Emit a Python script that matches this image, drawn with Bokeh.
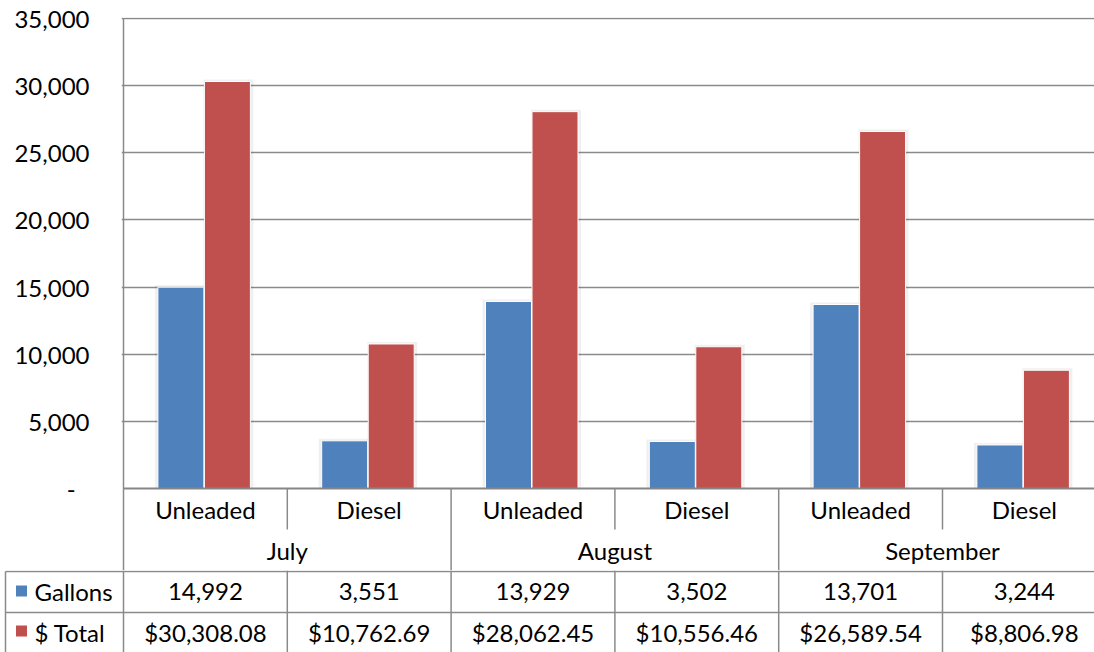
from bokeh.plotting import figure
from bokeh.models import Range1d, FixedTicker, NumeralTickFormatter, ColumnDataSource
from bokeh.layouts import column
from bokeh.transform import dodge
from bokeh.core.properties import value
from bokeh.embed import file_html
from bokeh.resources import INLINE

# ---------------- data ----------------
months = ["July", "August", "September"]
fuels = ["Unleaded", "Diesel"]
series = ["Gallons", "$ Total"]
gallons = [14992, 3551, 13929, 3502, 13701, 3244]
totals = [30308.08, 10762.69, 28062.45, 10556.46, 26589.54, 8806.98]
y_ticks = [0, 5000, 10000, 15000, 20000, 25000, 30000, 35000]

# ---------------- style / layout ----------------
BLUE = "#4F81BD"
RED = "#C0504D"
GRID = "#8a8a8a"
FONT = "Lato"
FSIZE = "24px"

CW = 163.8            # px per category column
PX = 470 / 35000      # px per value unit
PLOT_LEFT = 123       # page x of plot-area left edge
ZERO_Y = 488          # page y of value 0
FIG_W = 1094
A_TOP = 17
A_BOTTOM = 570
B_BOTTOM = 652
CAT_ROW_MID = 508.5
CAT_ROW_BOTTOM = 529
MONTH_ROW_MID = 549.5
ROW1_LINE = 571
ROW1_MID = 591
ROW2_LINE = 612
ROW2_MID = 632
LEG_LEFT = 5


def ydata(page_y):
    return (ZERO_Y - page_y) / PX


def xdata(page_x):
    return (page_x - PLOT_LEFT) / CW


n_cols = len(months) * len(fuels)
x_pos = [m * len(fuels) + f + 0.5 for m in range(len(months)) for f in range(len(fuels))]
cat_labels = [fu for _ in months for fu in fuels]
month_x = [m * len(fuels) + len(fuels) / 2 for m in range(len(months))]

src = ColumnDataSource(dict(
    x=x_pos,
    gallons=gallons,
    totals=totals,
    gal_sh=[g + 2 / PX for g in gallons],
    tot_sh=[t + 2 / PX for t in totals],
))

BAR_W = 46 / CW
OFF_L = -24.5 / CW
OFF_R = 22 / CW

# ---------------- top figure: chart + category header ----------------
pA = figure(width=FIG_W, height=A_BOTTOM,
            x_range=Range1d(xdata(121), xdata(FIG_W)),
            y_range=Range1d(ydata(A_BOTTOM), ydata(A_TOP)),
            min_border_left=121, min_border_right=0, min_border_top=A_TOP, min_border_bottom=0,
            x_axis_location=None, toolbar_location=None, output_backend="svg",
            outline_line_color=None, background_fill_color="white", frame_align=False)

pA.xgrid.visible = False
pA.ygrid.ticker = FixedTicker(ticks=y_ticks[1:])
pA.ygrid.grid_line_color = GRID
pA.ygrid.grid_line_width = 1.3

ax = pA.yaxis[0]
ax.ticker = FixedTicker(ticks=y_ticks)
ax.formatter = NumeralTickFormatter(format="0,0")
ax.major_label_overrides = {0: "-\u2007"}
ax.axis_line_color = None
ax.major_tick_line_color = None
ax.minor_tick_line_color = None
ax.major_tick_out = 0
ax.major_tick_in = 0
ax.major_label_standoff = 32
ax.major_label_text_font = FONT
ax.major_label_text_font_size = FSIZE
ax.major_label_text_color = "black"

# soft shadows
pA.vbar(x=dodge("x", OFF_L - 1 / CW), top="gal_sh", width=BAR_W + 4 / CW, source=src,
        fill_color="black", fill_alpha=0.06, line_color=None)
pA.vbar(x=dodge("x", OFF_R + 1 / CW), top="tot_sh", width=BAR_W + 4 / CW, source=src,
        fill_color="black", fill_alpha=0.06, line_color=None)
# bars
pA.vbar(x=dodge("x", OFF_L), top="gallons", width=BAR_W, source=src,
        fill_color=BLUE, line_color="white", line_width=1)
pA.vbar(x=dodge("x", OFF_R), top="totals", width=BAR_W, source=src,
        fill_color=RED, line_color="white", line_width=1)

# axis line at zero
pA.segment(x0=[0], y0=[0], x1=[xdata(FIG_W) + 1], y1=[0], line_color="#868686", line_width=2)
# left border of plot area and table
pA.segment(x0=[0], y0=[35000], x1=[0], y1=[ydata(A_BOTTOM)], line_color=GRID, line_width=1.5)
# month separators (full) and fuel separators (category row only)
month_seps = [m * len(fuels) for m in range(1, len(months))]
fuel_seps = [m * len(fuels) + f for m in range(len(months)) for f in range(1, len(fuels))]
pA.segment(x0=month_seps, y0=[0] * len(month_seps), x1=month_seps,
           y1=[ydata(A_BOTTOM)] * len(month_seps), line_color=GRID, line_width=1.5)
pA.segment(x0=fuel_seps, y0=[0] * len(fuel_seps), x1=fuel_seps,
           y1=[ydata(CAT_ROW_BOTTOM)] * len(fuel_seps), line_color=GRID, line_width=1.5)

pA.text(x=x_pos, y=[ydata(CAT_ROW_MID)] * n_cols, text=cat_labels,
        text_font=value(FONT), text_font_size=value(FSIZE), text_color="black",
        text_align="center", text_baseline="middle")
pA.text(x=month_x, y=[ydata(MONTH_ROW_MID)] * len(months), text=months,
        text_font=value(FONT), text_font_size=value(FSIZE), text_color="black",
        text_align="center", text_baseline="middle")

# ---------------- bottom figure: data table ----------------
pB = figure(width=FIG_W, height=B_BOTTOM - A_BOTTOM,
            x_range=Range1d(xdata(0), xdata(FIG_W)),
            y_range=Range1d(B_BOTTOM, A_BOTTOM),
            min_border=0, min_border_left=0, min_border_right=0, min_border_top=0, min_border_bottom=0,
            x_axis_location=None, y_axis_location=None, toolbar_location=None,
            output_backend="svg", outline_line_color=None, background_fill_color="white",
            frame_align=False)
pB.grid.visible = False

x_right = xdata(FIG_W) + 1
pB.segment(x0=[xdata(LEG_LEFT)] * 2, y0=[ROW1_LINE, ROW2_LINE], x1=[x_right] * 2,
           y1=[ROW1_LINE, ROW2_LINE], line_color=GRID, line_width=1.5)
vx = [xdata(LEG_LEFT)] + list(range(0, n_cols + 1))
vy0 = [ROW1_LINE] + [A_BOTTOM] * (n_cols + 1)
pB.segment(x0=vx, y0=vy0, x1=vx, y1=[B_BOTTOM + 2] * len(vx), line_color=GRID, line_width=1.5)

pB.scatter(x=[xdata(21)] * 2, y=[ROW1_MID - 0.5, ROW2_MID - 1.5], marker="square", size=11,
           fill_color=[BLUE, RED], line_color=None)
pB.text(x=[xdata(34)] * 2, y=[ROW1_MID, ROW2_MID], text=series,
        text_font=value(FONT), text_font_size=value(FSIZE), text_color="black",
        text_align="left", text_baseline="middle")
pB.text(x=x_pos, y=[ROW1_MID] * n_cols, text=[f"{g:,}" for g in gallons],
        text_font=value(FONT), text_font_size=value(FSIZE), text_color="black",
        text_align="center", text_baseline="middle")
pB.text(x=x_pos, y=[ROW2_MID] * n_cols, text=[f"${t:,.2f}" for t in totals],
        text_font=value(FONT), text_font_size=value(FSIZE), text_color="black",
        text_align="center", text_baseline="middle")

layout = column(pA, pB, spacing=0)
open("out.html", "w").write(file_html(layout, INLINE, title="Fuel usage"))
